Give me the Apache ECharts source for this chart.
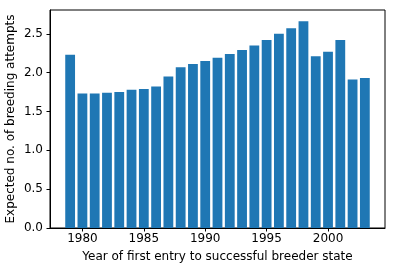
<!DOCTYPE html>
<html>
<head>
<meta charset="utf-8">
<script src="https://cdn.jsdelivr.net/npm/echarts@6/dist/echarts.min.js"></script>
<style>html,body{margin:0;padding:0;background:#fff}#c{width:395px;height:272px}</style>
</head>
<body>
<div id="c"></div>
<script>
var years = [1979,1980,1981,1982,1983,1984,1985,1986,1987,1988,1989,1990,1991,1992,1993,1994,1995,1996,1997,1998,1999,2000,2001,2002,2003];
var attempts = [2.23,1.73,1.73,1.74,1.75,1.78,1.79,1.82,1.95,2.07,2.11,2.15,2.19,2.24,2.29,2.35,2.42,2.50,2.57,2.66,2.21,2.27,2.42,1.91,1.93];
var xTicks = [1980,1985,1990,1995,2000];
var yTicks = [0,0.5,1,1.5,2,2.5];

var chart = echarts.init(document.getElementById('c'), null, {renderer:'canvas'});
var font = 'DejaVu Sans';
chart.setOption({
  animation: false,
  grid: {left: 50, right: 10, top: 10, bottom: 44, containLabel: false, outerBoundsMode: 'none',
    show: true, borderColor: '#000', borderWidth: 1, backgroundColor: 'transparent'},
  xAxis: {
    type: 'value', min: 1977.36, max: 2004.64,
    name: 'Year of first entry to successful breeder state',
    nameLocation: 'middle', nameGap: 23, nameMoveOverlap: false,
    nameTextStyle: {fontFamily: font, fontSize: 12, color: '#000'},
    axisLine: {show: true, onZero: false, lineStyle: {color: '#000', width: 1}},
    axisTick: {show: true, length: 3.5, inside: false, customValues: xTicks, lineStyle: {color: '#000'}},
    axisLabel: {show: true, margin: 5, customValues: xTicks, fontFamily: font, fontSize: 12, color: '#000',
      formatter: function(v){return String(v);}},
    splitLine: {show: false}
  },
  yAxis: {
    type: 'value', min: 0, max: 2.806,
    name: 'Expected no. of breeding attempts',
    nameLocation: 'middle', nameGap: 33, nameMoveOverlap: false,
    nameTextStyle: {fontFamily: font, fontSize: 12, color: '#000'},
    axisLine: {show: true, lineStyle: {color: '#000', width: 1}},
    axisTick: {show: true, length: 3.5, customValues: yTicks, lineStyle: {color: '#000'}},
    axisLabel: {show: true, margin: 7, customValues: yTicks, fontFamily: font, fontSize: 12, color: '#000',
      formatter: function(v){return v.toFixed(1);}},
    splitLine: {show: false}
  },
  series: [{
    type: 'bar',
    data: years.map(function(y,i){return [y, attempts[i]];}),
    barWidth: 9.8,
    itemStyle: {color: '#1f77b4'}
  }]
});
</script>
</body>
</html>
